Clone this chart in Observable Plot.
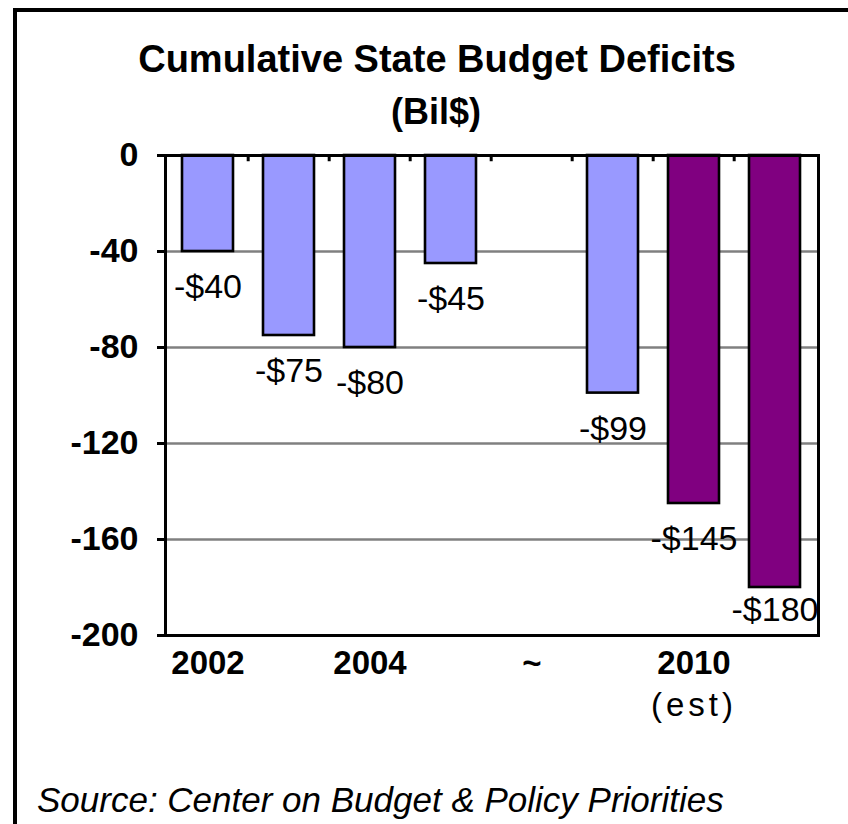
<!DOCTYPE html>
<html>
<head>
<meta charset="utf-8">
<script src="https://cdn.jsdelivr.net/npm/d3@7"></script>
<script src="https://cdn.jsdelivr.net/npm/@observablehq/plot@0.6"></script>
<style>
  html, body { margin: 0; padding: 0; background: #fff; width: 848px; height: 824px; overflow: hidden; position: relative; }
  body { font-family: "Liberation Sans", Arial, sans-serif; color: #000; }
  #border { position: absolute; left: 13px; top: 8px; width: 900px; height: 900px; border-left: 4px solid #000; border-top: 4px solid #000; }
  #chart { position: absolute; left: 0; top: 0; }
  .t { position: absolute; white-space: nowrap; line-height: 1; }
  #title { left: 0; width: 874px; text-align: center; top: 40px; font-size: 38px; font-weight: bold; }
  #subtitle { left: 0; width: 872px; text-align: center; top: 94px; font-size: 36px; font-weight: bold; }
  #source { left: 37px; top: 782px; font-size: 35px; font-style: italic; }
</style>
</head>
<body>
<div id="border"></div>
<div id="chart"></div>
<div class="t" id="title">Cumulative State Budget Deficits</div>
<div class="t" id="subtitle">(Bil$)</div>
<div class="t" id="source">Source: Center on Budget &amp; Policy Priorities</div>
<script>
// ---- data ----
const categories = ["2002", "2003", "2004", "2005", "gap", "2009", "2010", "2011"];
const values     = [-40, -75, -80, -45, null, -99, -145, -180];
const estimated  = [false, false, false, false, false, false, true, true];
const tickLabels = ["2002", "", "2004", "", "~", "", "2010", ""];
const subLabels  = ["", "", "", "", "", "", "(est)", ""];
const yTicks     = [0, -40, -80, -120, -160, -200];
const gridLines  = [-40, -80, -120, -160];

const rows = categories.map((c, i) => ({cat: c, value: values[i], est: estimated[i], lab: tickLabels[i], sub: subLabels[i]}));
const bars = rows.filter(d => d.value != null);
const lastCat = bars[bars.length - 1].cat;

const W = 848, marginLeft = 165, marginRight = 30;
const step = (W - marginLeft - marginRight) / categories.length;

const plot = Plot.plot({
  width: W,
  height: 760,
  marginLeft,
  marginRight,
  marginTop: 155,
  marginBottom: 125,
  style: {background: "transparent", overflow: "visible", fontFamily: "'Liberation Sans', Arial, sans-serif", color: "#000"},
  x: {type: "band", domain: categories, paddingInner: 0.37, paddingOuter: 0.185, axis: null},
  y: {domain: [-200, 0], axis: null},
  marks: [
    Plot.ruleY(gridLines, {stroke: "#808080", strokeWidth: 2.5}),
    Plot.barY(bars, {x: "cat", y: "value", fill: d => d.est ? "#800080" : "#9999ff", stroke: "#000", strokeWidth: 2.6}),
    Plot.ruleX(categories.slice(1), {x: d => d, y1: 0, y2: -2.6, dx: -step / 2, stroke: "#000", strokeWidth: 3}),
    Plot.frame({stroke: "#000", strokeWidth: 3}),
    Plot.axisY({ticks: yTicks, tickSize: 8, tickPadding: 19, fontSize: 34, fontWeight: "bold", tickFormat: d => String(d), label: null, stroke: "#000", strokeWidth: 3}),
    Plot.text(bars.filter(d => d.cat !== lastCat), {x: "cat", y: "value", text: d => "-$" + Math.abs(d.value), dy: 36, fontSize: 34, fill: "#000"}),
    Plot.text(bars.filter(d => d.cat === lastCat), {x: "cat", y: "value", text: d => "-$" + Math.abs(d.value), dy: 23, fontSize: 34, fill: "#000"}),
    Plot.text(rows, {x: "cat", text: "lab", frameAnchor: "bottom", dy: 38, fontSize: 33, fontWeight: "bold", fill: "#000"}),
    Plot.text(rows, {x: "cat", text: "sub", frameAnchor: "bottom", dy: 80, fontSize: 33, fill: "#000"})
  ]
});
d3.select(plot).selectAll("text").filter(function() { return this.textContent === "(est)"; }).style("letter-spacing", "4px");
document.getElementById("chart").appendChild(plot);
</script>
</body>
</html>
